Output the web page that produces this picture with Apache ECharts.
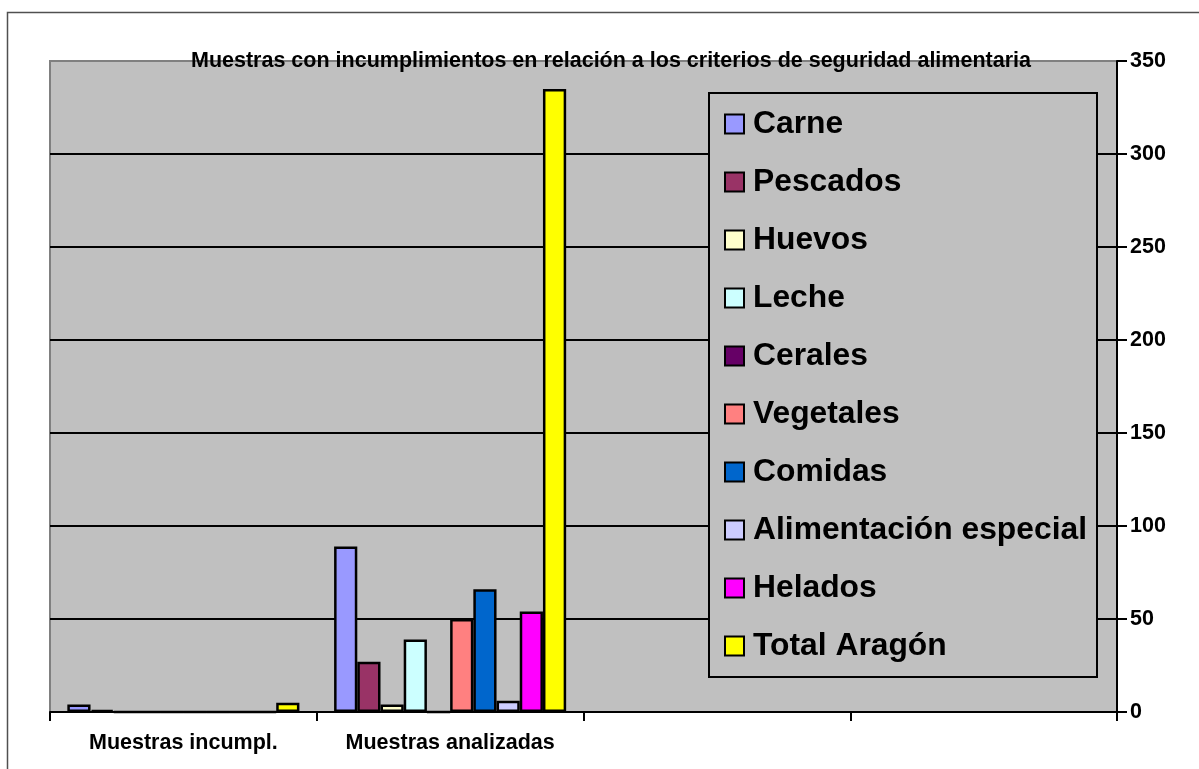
<!DOCTYPE html>
<html>
<head>
<meta charset="utf-8">
<script src="https://cdn.jsdelivr.net/npm/echarts@6/dist/echarts.min.js"></script>
<style>
  html, body { margin: 0; padding: 0; background: #fff; }
  #chart { width: 1199px; height: 769px; }
</style>
</head>
<body>
<div id="chart"></div>
<script>
// Category labels along the bottom axis (the last two slots are empty)
const categories = ['Muestras incumpl.', 'Muestras analizadas', '', ''];

// One series per food group: [incumplimientos, analizadas, -, -]
const seriesNames = ['Carne', 'Pescados', 'Huevos', 'Leche', 'Cerales', 'Vegetales',
  'Comidas', 'Alimentación especial', 'Helados', 'Total Aragón'];
const carne = [4, 89, null, null];
const pescados = [1, 27, null, null];
const huevos = [0, 4, null, null];
const leche = [0, 39, null, null];
const cerales = [0, 0, null, null];
const vegetales = [0, 50, null, null];
const comidas = [0, 66, null, null];
const alimentacionEspecial = [0, 6, null, null];
const helados = [0, 54, null, null];
const totalAragon = [5, 335, null, null];

const seriesValues = [carne, pescados, huevos, leche, cerales, vegetales,
  comidas, alimentacionEspecial, helados, totalAragon];
const seriesColors = ['#9999FF', '#993366', '#FFFFCC', '#CCFFFF', '#660066', '#FF8080',
  '#0066CC', '#CCCCFF', '#FF00FF', '#FFFF00'];

const FONT = '"Liberation Sans", Arial, sans-serif';

const chart = echarts.init(document.getElementById('chart'), null, { renderer: 'canvas' });

chart.setOption({
  animation: false,
  backgroundColor: '#ffffff',
  title: {
    text: 'Muestras con incumplimientos en relación a los criterios de seguridad alimentaria',
    left: 191,
    top: 50,
    padding: 0,
    z: 6,
    textStyle: { fontFamily: FONT, fontSize: 21.5, fontWeight: 'bold', color: '#000' }
  },
  graphic: [
    {
      type: 'rect',
      z: 0,
      silent: true,
      shape: { x: 7.5, y: 12.5, width: 1300, height: 900 },
      style: { fill: 'none', stroke: '#505050', lineWidth: 1.5 }
    },
    {
      type: 'rect',
      z: 3,
      silent: true,
      shape: { x: 709, y: 93, width: 388, height: 584 },
      style: { fill: '#C0C0C0', stroke: '#000', lineWidth: 2 }
    }
  ],
  legend: {
    orient: 'vertical',
    left: 724,
    top: 108,
    padding: 0,
    itemGap: 26,
    itemWidth: 19,
    itemHeight: 19,
    icon: 'rect',
    z: 5,
    itemStyle: { borderColor: '#000', borderWidth: 2 },
    textStyle: { fontFamily: FONT, fontSize: 31.8, fontWeight: 'bold', color: '#000',
      lineHeight: 32, padding: [0, 0, 0, 4] },
    data: seriesNames
  },
  grid: {
    left: 50,
    right: 82,
    top: 61,
    bottom: 57,
    show: true,
    backgroundColor: '#C0C0C0',
    borderColor: '#808080',
    borderWidth: 2
  },
  xAxis: {
    type: 'category',
    data: categories,
    boundaryGap: true,
    axisLine: { show: true, lineStyle: { color: '#000', width: 2 } },
    axisTick: { show: true, interval: 0, length: 9, alignWithLabel: false, lineStyle: { color: '#000', width: 2 } },
    axisLabel: { interval: 0, hideOverlap: false, fontFamily: FONT, fontSize: 21.5, fontWeight: 'bold', color: '#000', margin: 20 },
    splitLine: { show: false }
  },
  yAxis: {
    type: 'value',
    position: 'right',
    min: 0,
    max: 350,
    interval: 50,
    axisLine: { show: true, lineStyle: { color: '#000', width: 2 } },
    axisTick: { show: true, length: 10, inside: false, lineStyle: { color: '#000', width: 2 } },
    axisLabel: { fontFamily: FONT, fontSize: 21.5, fontWeight: 'bold', color: '#000', margin: 13 },
    splitLine: { show: true, showMinLine: false, showMaxLine: false, lineStyle: { color: '#000', width: 2 } }
  },
  series: seriesNames.map((name, i) => ({
    name: name,
    type: 'bar',
    data: seriesValues[i],
    barGap: '0%',
    barCategoryGap: '13%',
    itemStyle: { color: seriesColors[i], borderColor: '#000', borderWidth: 2.5 }
  }))
});
</script>
</body>
</html>
